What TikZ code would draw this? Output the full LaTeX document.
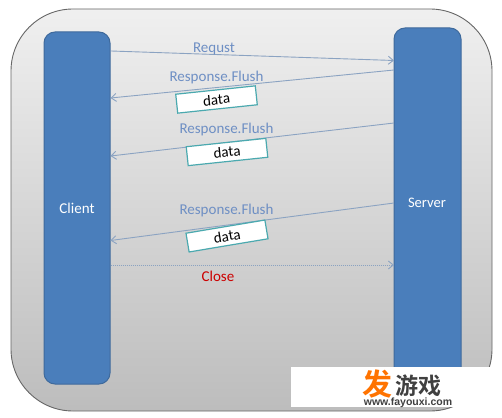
\documentclass[tikz,border=0pt]{standalone}
\usepackage{fontspec}
\setmainfont{Carlito}
\newfontfamily\cjk{Noto Sans CJK SC}[BoldFont={* Bold}]
\newfontfamily\wm{Liberation Sans}
\usetikzlibrary{arrows.meta}
\definecolor{barblue}{HTML}{4A7EBB}
\definecolor{bardark}{HTML}{3F6A9C}
\definecolor{linkc}{HTML}{8BA3C2}
\definecolor{labelc}{HTML}{6E8FC4}
\definecolor{tealb}{HTML}{4BA9AF}
\tikzset{
  panel/.style={draw=black!60,line width=0.9pt,rounded corners=62pt,top color=black!6,bottom color=black!26},
  bar/.style={draw=bardark,line width=1pt,fill=barblue,rounded corners=11pt,text=white,font=\fontsize{15}{17}\selectfont},
  msg/.style={draw=linkc,line width=0.9pt,-{Straight Barb[length=5pt,width=8pt]}},
  msgdot/.style={msg,dash pattern=on 1.5pt off 0.5pt},
  tag/.style={text=labelc,font=\fontsize{15}{17}\selectfont,inner sep=0pt},
  databox/.style={draw=tealb,line width=1.2pt,fill=white,minimum width=80pt,minimum height=19pt,inner sep=0pt,font=\fontsize{15}{17}\selectfont,text=black},
}
\begin{document}
\begin{tikzpicture}[x=1pt,y=-1pt]
\useasboundingbox (0,0) rectangle (502,417);
\fill[white] (0,0) rectangle (502,417);
\node[panel,minimum width=481pt,minimum height=402pt,inner sep=0pt] (panel) at (251.5,210) {};
\node[bar,minimum width=66pt,minimum height=352pt,inner sep=0pt] (client) at (77,208) {Client};
\node[bar,minimum width=67pt,minimum height=352pt,inner sep=0pt] (server) at (427.5,204) {};
\node[text=white,font=\fontsize{14.6}{17}\selectfont] (serverlabel) at (427,203) {Server};
\coordinate (a1) at (111,51);  \coordinate (b1) at (394,60.5);
\coordinate (b2) at (394,70);  \coordinate (a2) at (110.5,98);
\coordinate (b3) at (394,123); \coordinate (a3) at (110.5,156);
\coordinate (b4) at (394,203); \coordinate (a4) at (110.5,240.5);
\coordinate (a5) at (110.5,265); \coordinate (b5) at (394,265);
\draw[msg] (a1) -- (b1);
\draw[msg] (b2) -- (a2);
\draw[msg] (b3) -- (a3);
\draw[msg] (b4) -- (a4);
\draw[msgdot] (a5) -- (b5);
\node[tag] (t1) at (214,48.5) {Requst};
\node[tag] (t2) at (216.5,78) {Response.Flush};
\node[tag] (t3) at (226.5,130) {Response.Flush};
\node[tag] (t4) at (226.5,210) {Response.Flush};
\node[tag,text=red!80!black] (t5) at (218,276) {Close};
\node[databox,rotate=6] (d1) at (216.5,99.5) {data};
\node[databox,rotate=6] (d2) at (227,152) {data};
\node[databox,rotate=9.5] (d3) at (227,236) {data};
\fill[white] (291,367) rectangle (493,407);
\node[inner sep=0pt,text=orange!90!red,font=\cjk\bfseries\fontsize{30}{30}\selectfont] (w1) at (377,384) {发};
\node[inner sep=0pt,text=black!75,font=\cjk\bfseries\fontsize{23}{23}\selectfont] (w2) at (418,386) {游戏};
\node[inner sep=0pt,text=black!75,font=\wm\bfseries\fontsize{10.5}{11}\selectfont] (w3) at (408,403) {www.fayouxi.com};
\end{tikzpicture}
\end{document}
